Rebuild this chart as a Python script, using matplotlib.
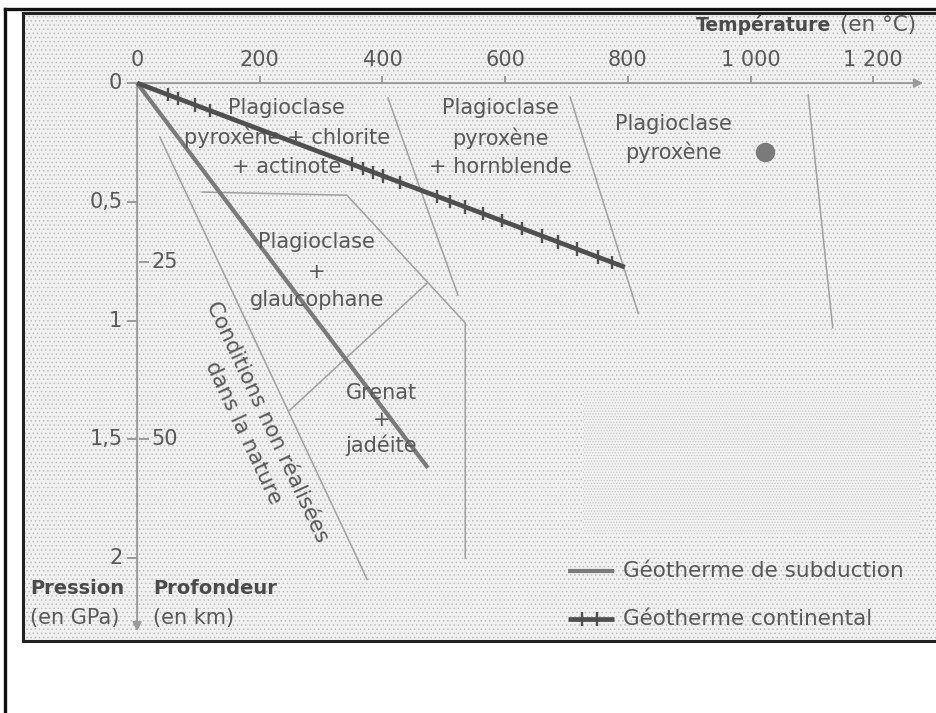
import numpy as np
import matplotlib
matplotlib.use('Agg')
import matplotlib.pyplot as plt
from matplotlib.patches import Rectangle
from matplotlib.lines import Line2D

plt.rcParams['font.family'] = 'DejaVu Sans'
plt.rcParams['hatch.linewidth'] = 0.6

# --- axes ticks ---
temp_ticks = [0, 200, 400, 600, 800, 1000, 1200]
temp_labels = ['0', '200', '400', '600', '800', '1 000', '1 200']
pres_ticks = [0, 0.5, 1, 1.5, 2]
pres_labels = ['0', '0,5', '1', '1,5', '2']
depth_ticks_p = [0.754, 1.5]          # position on the pressure axis
depth_labels = ['25', '50']

# --- geotherms (T in °C, P in GPa) ---
cont_T = [0, 795]
cont_P = [0, 0.775]
cont_marks_T = [50, 67, 95, 119, 350, 368, 385, 401, 429, 489, 510, 535,
                564, 595, 627, 660, 686, 717, 751, 774]
subd_T = [0, 474]
subd_P = [0, 1.62]

# --- facies boundaries ---
bound_nonreal_T = [37, 375]
bound_nonreal_P = [0.227, 2.09]
bound_glauco_T = [106, 342, 535, 535]
bound_glauco_P = [0.459, 0.472, 1.01, 2.0]
bound_grenat_T = [249, 473]
bound_grenat_P = [1.377, 0.842]
bound_horn_T = [409, 523]
bound_horn_P = [0.063, 0.893]
bound_gran_T = [706, 817]
bound_gran_P = [0.059, 0.97]
bound_fusion_T = [1094, 1134]
bound_fusion_P = [0.05, 1.03]

dot_T, dot_P = 1024, 0.29

# --- zone labels: (lines, T centre, P of each line) ---
zones = [
    (['Plagioclase', 'pyroxène + chlorite', '+ actinote'], 244, [0.105, 0.227, 0.354]),
    (['Plagioclase', 'pyroxène', '+ hornblende'], 592, [0.105, 0.232, 0.354]),
    (['Plagioclase', 'pyroxène'], 875, [0.173, 0.291]),
    (['Plagioclase', '+', 'glaucophane'], 293, [0.669, 0.796, 0.914]),
    (['Grenat', '+', 'jadéite'], 398, [1.305, 1.419, 1.524]),
]

txt = '#585858'
fig = plt.figure(figsize=(9.37, 7.13), dpi=100)
ax = fig.add_axes([23 / 937, 72 / 713, 914 / 937, 628 / 713])
ax.set_xlim(-186, 1304)
ax.set_ylim(2.349, -0.295)
ax.set_xticks([])
ax.set_yticks([])
for side in ['left', 'top', 'bottom']:
    ax.spines[side].set_color('#222222')
    ax.spines[side].set_linewidth(2.2)
ax.spines['right'].set_visible(False)

# stippled background
ax.add_patch(Rectangle((-186, -0.295), 1490, 2.644, facecolor='#f1f1f1',
                       edgecolor='#bdbdbd', hatch='....', lw=0, zorder=0))
ax.add_patch(Rectangle((727, 1.30), 549, 0.60, facecolor='#f2f2f2',
                       edgecolor='#c8c8c8', hatch='......', lw=0, zorder=0))

# outer frame of the page
fig.add_artist(Line2D([5 / 937, 1], [1 - 9 / 713, 1 - 9 / 713], color='#111111', lw=2.4))
fig.add_artist(Line2D([5 / 937, 5 / 937], [0, 1 - 9 / 713], color='#111111', lw=2.4))

# axes arrows
axc = '#9a9a9a'
ax.annotate('', xy=(1286, 0), xytext=(0, 0),
            arrowprops=dict(arrowstyle='-|>', color=axc, lw=1.4, mutation_scale=13))
ax.annotate('', xy=(0, 2.32), xytext=(0, 0),
            arrowprops=dict(arrowstyle='-|>', color=axc, lw=1.4, mutation_scale=13))
for t, lab in zip(temp_ticks, temp_labels):
    if t > 0:
        ax.plot([t, t], [-0.025, 0], color=axc, lw=1.4)
    ax.text(t, -0.097, lab, ha='center', va='center', fontsize=15, color=txt)
for p, lab in zip(pres_ticks, pres_labels):
    ax.plot([-15, 0], [p, p], color=axc, lw=1.4)
    ax.text(-24, p, lab, ha='right', va='center', fontsize=15, color=txt)
for p, lab in zip(depth_ticks_p, depth_labels):
    ax.plot([4, 17], [p, p], color=axc, lw=1.4)
    ax.text(23, p, lab, ha='left', va='center', fontsize=15, color=txt)

ax.text(1132, -0.244, 'Température', ha='right', va='center', fontsize=13.5,
        fontweight='bold', color='#4a4a4a')
ax.text(1146, -0.244, '(en °C)', ha='left', va='center', fontsize=15.5, color=txt)
ax.text(-174, 2.126, 'Pression', ha='left', va='center', fontsize=14,
        fontweight='bold', color='#4a4a4a')
ax.text(-174, 2.253, '(en GPa)', ha='left', va='center', fontsize=15, color=txt)
ax.text(26, 2.126, 'Profondeur', ha='left', va='center', fontsize=14,
        fontweight='bold', color='#4a4a4a')
ax.text(26, 2.253, '(en km)', ha='left', va='center', fontsize=15, color=txt)

# facies boundaries
thin = dict(color='#a0a0a0', lw=1.1, zorder=2)
ax.plot(bound_nonreal_T, bound_nonreal_P, **thin)
ax.plot(bound_glauco_T, bound_glauco_P, **thin)
ax.plot(bound_grenat_T, bound_grenat_P, **thin)
ax.plot(bound_horn_T, bound_horn_P, **thin)
ax.plot(bound_gran_T, bound_gran_P, **thin)
ax.plot(bound_fusion_T, bound_fusion_P, **thin)

# geotherms
ax.plot(subd_T, subd_P, color='#7a7a7a', lw=3.0, solid_capstyle='butt', zorder=4)
ax.plot(cont_T, cont_P, color='#4f4f4f', lw=3.4, solid_capstyle='butt', zorder=5)
mark_P = np.interp(cont_marks_T, cont_T, cont_P)
ax.vlines(cont_marks_T, mark_P - 0.028, mark_P + 0.028, color='#4f4f4f', lw=1.7, zorder=5)

ax.plot(dot_T, dot_P, 'o', color='#7a7a7a', markersize=13, zorder=5)

# zone labels
for lines, t, ps in zones:
    for line, p in zip(lines, ps):
        ax.text(t, p, line, ha='center', va='center', fontsize=15, color=txt, zorder=6)

ax.text(192, 1.448, 'Conditions non réalisées\ndans la nature', ha='center', va='center',
        multialignment='center', rotation=-65, rotation_mode='anchor',
        fontsize=15.5, linespacing=1.4, color=txt, zorder=6)

# legend
ax.plot([702, 777], [2.055, 2.055], color='#7a7a7a', lw=3.0, solid_capstyle='butt')
ax.text(792, 2.055, 'Géotherme de subduction', ha='left', va='center', fontsize=15.5, color=txt)
ax.plot([702, 777], [2.257, 2.257], color='#4f4f4f', lw=3.4, solid_capstyle='butt')
ax.vlines([725, 750], 2.257 - 0.03, 2.257 + 0.03, color='#4f4f4f', lw=1.7)
ax.text(792, 2.257, 'Géotherme continental', ha='left', va='center', fontsize=15.5, color=txt)

fig.savefig('out.png', dpi=100, facecolor='white')
